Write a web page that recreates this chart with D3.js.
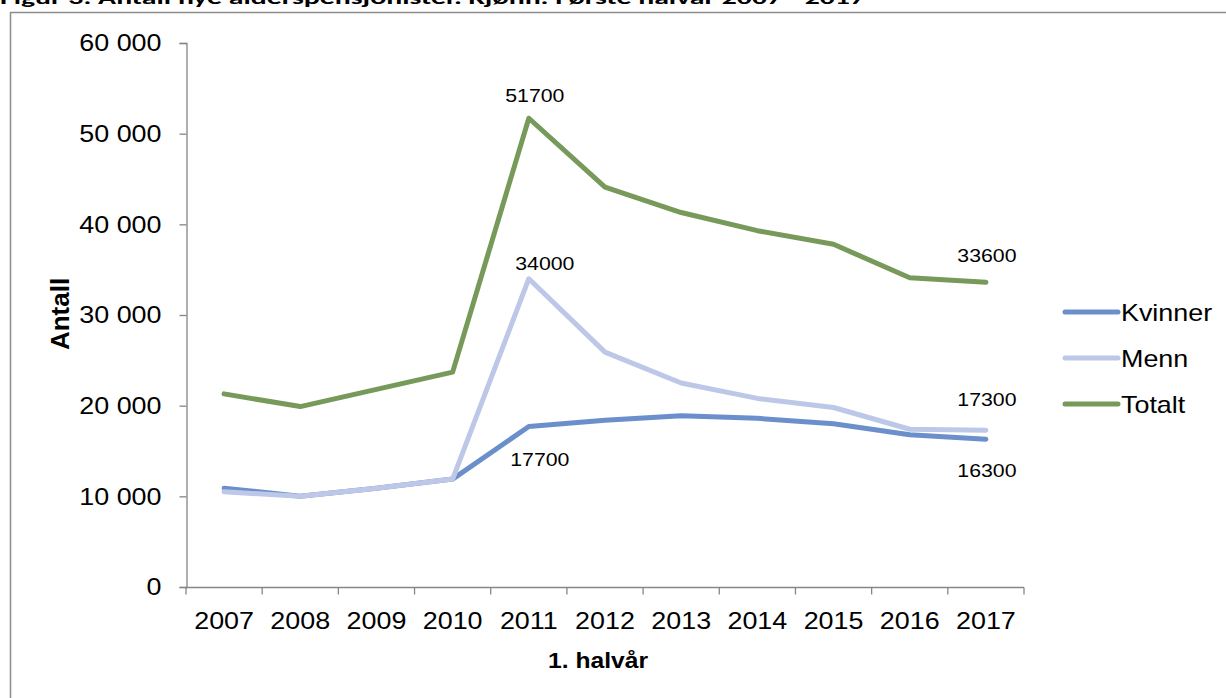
<!DOCTYPE html>
<html>
<head>
<meta charset="utf-8">
<script src="https://cdn.jsdelivr.net/npm/d3@7"></script>
<style>
  body { margin: 0; background: #fff; }
  svg { display: block; font-family: "Liberation Sans", Arial, sans-serif; }
</style>
</head>
<body>
<div id="chart"></div>
<script>
// categories (1. halvår)
var years = ["2007", "2008", "2009", "2010", "2011", "2012", "2013", "2014", "2015", "2016", "2017"];

// series values
var kvinner = [10900, 10000, 10900, 11900, 17700, 18400, 18900, 18600, 18000, 16800, 16300];
var menn    = [10500, 10000, 10900, 11900, 34000, 25900, 22500, 20800, 19800, 17400, 17300];
var totalt  = [21300, 19900, 21800, 23700, 51700, 44100, 41300, 39300, 37800, 34100, 33600];

var yTicks = [0, 10000, 20000, 30000, 40000, 50000, 60000];

// which points carry a data label
var labelSeries = ["Totalt", "Totalt", "Menn", "Menn", "Kvinner", "Kvinner"];
var labelYears  = ["2011", "2017", "2011", "2017", "2011", "2017"];

var series = [
  { name: "Kvinner", values: kvinner, color: "#6a8fcb" },
  { name: "Menn", values: menn, color: "#bdc7e7" },
  { name: "Totalt", values: totalt, color: "#779a5b" }
];

var width = 1226, height = 698;
var stretch = 1.12; // the reference text is a bit wider than plain Arial

var svg = d3.select("#chart").append("svg")
  .attr("width", width)
  .attr("height", height);

// title, cut off at the top of the picture
svg.append("text")
  .attr("x", 0)
  .attr("y", 4)
  .attr("font-family", "Carlito, 'Open Sans', sans-serif")
  .attr("font-weight", "bold")
  .attr("font-size", 17)
  .attr("textLength", 865)
  .attr("lengthAdjust", "spacingAndGlyphs")
  .text("Figur 3. Antall nye alderspensjonister. Kjønn. Første halvår 2007 - 2017");

// chart frame
svg.append("rect")
  .attr("x", 10.5)
  .attr("y", 12.5)
  .attr("width", 1300)
  .attr("height", 800)
  .attr("fill", "none")
  .attr("stroke", "#8c8c8c")
  .attr("stroke-width", 1.5);

var x = d3.scaleBand().domain(years).range([186, 1024]).padding(0);
var y = d3.scaleLinear().domain([0, 60000]).range([587, 43]);
var cx = function(yr) { return x(yr) + x.bandwidth() / 2; };

var fmt = function(v) { return d3.format(",")(v).replace(/,/g, " "); };

// y axis
var yAxis = svg.append("g")
  .attr("transform", "translate(186.5,0)")
  .call(d3.axisLeft(y).tickValues(yTicks).tickSize(7).tickPadding(18).tickFormat(fmt));
yAxis.selectAll("path, line").attr("stroke", "#868686").attr("stroke-width", 1.3);
yAxis.selectAll("text").attr("font-size", 24).attr("fill", "#000")
  .attr("font-family", "'Liberation Sans', Arial, sans-serif")
  .classed("stretch", true);

// x axis: ticks between categories
var xAxisG = svg.append("g").attr("transform", "translate(0,587.5)");
xAxisG.append("line")
  .attr("x1", x.range()[0]).attr("x2", x.range()[1])
  .attr("stroke", "#868686").attr("stroke-width", 1.3);
xAxisG.selectAll("line.tick")
  .data(years.concat(["end"]))
  .enter().append("line")
  .attr("class", "tick")
  .attr("x1", function(d, i) { return x.range()[0] + i * x.bandwidth(); })
  .attr("x2", function(d, i) { return x.range()[0] + i * x.bandwidth(); })
  .attr("y1", 0).attr("y2", 7)
  .attr("stroke", "#868686").attr("stroke-width", 1.3);
xAxisG.selectAll("text")
  .data(years)
  .enter().append("text")
  .attr("class", "stretch")
  .attr("x", function(d) { return cx(d); })
  .attr("y", 41)
  .attr("text-anchor", "middle")
  .attr("font-size", 24)
  .text(function(d) { return d; });

// axis titles
svg.append("text")
  .attr("transform", "translate(69,314) rotate(-90)")
  .attr("text-anchor", "middle")
  .attr("font-weight", "bold")
  .attr("font-size", 26)
  .text("Antall");

svg.append("text")
  .attr("class", "stretch")
  .attr("x", 598)
  .attr("y", 668)
  .attr("text-anchor", "middle")
  .attr("font-weight", "bold")
  .attr("font-size", 22)
  .text("1. halvår");

// lines
var line = d3.line()
  .x(function(d, i) { return cx(years[i]); })
  .y(function(d) { return y(d); });

svg.append("g").selectAll("path")
  .data(series)
  .enter().append("path")
  .attr("d", function(d) { return line(d.values); })
  .attr("fill", "none")
  .attr("stroke", function(d) { return d.color; })
  .attr("stroke-width", 5)
  .attr("stroke-linejoin", "round")
  .attr("stroke-linecap", "round");

// data labels, placed as in the reference (offsets from the point)
var labelOffset = {
  "Totalt 2011": [6, -16], "Totalt 2017": [1, -20],
  "Menn 2011": [16, -9], "Menn 2017": [1, -24],
  "Kvinner 2011": [11, 39], "Kvinner 2017": [1, 38]
};
svg.append("g").selectAll("text")
  .data(labelSeries.map(function(s, i) { return { series: s, year: labelYears[i] }; }))
  .enter().append("text")
  .attr("class", "stretch")
  .each(function(d) {
    var s = series.find(function(s) { return s.name === d.series; });
    d.value = s.values[years.indexOf(d.year)];
    d.off = labelOffset[d.series + " " + d.year];
  })
  .attr("x", function(d) { return cx(d.year) + d.off[0]; })
  .attr("y", function(d) { return y(d.value) + d.off[1]; })
  .attr("text-anchor", "middle")
  .attr("font-size", 19)
  .text(function(d) { return d.value; });

// legend
var legend = svg.append("g").selectAll("g")
  .data(series)
  .enter().append("g")
  .attr("transform", function(d, i) { return "translate(1063," + (312 + i * 46) + ")"; });
legend.append("line")
  .attr("x1", 2).attr("x2", 55)
  .attr("stroke", function(d) { return d.color; })
  .attr("stroke-width", 5)
  .attr("stroke-linecap", "round");
legend.append("text")
  .attr("class", "stretch")
  .attr("x", 58)
  .attr("y", 9)
  .attr("font-size", 24)
  .text(function(d) { return d.name; });

// widen the Arial-like text to the proportions of the reference
svg.selectAll("text.stretch").each(function() {
  var w = this.getComputedTextLength();
  d3.select(this).attr("textLength", w * stretch).attr("lengthAdjust", "spacingAndGlyphs");
});
</script>
</body>
</html>
